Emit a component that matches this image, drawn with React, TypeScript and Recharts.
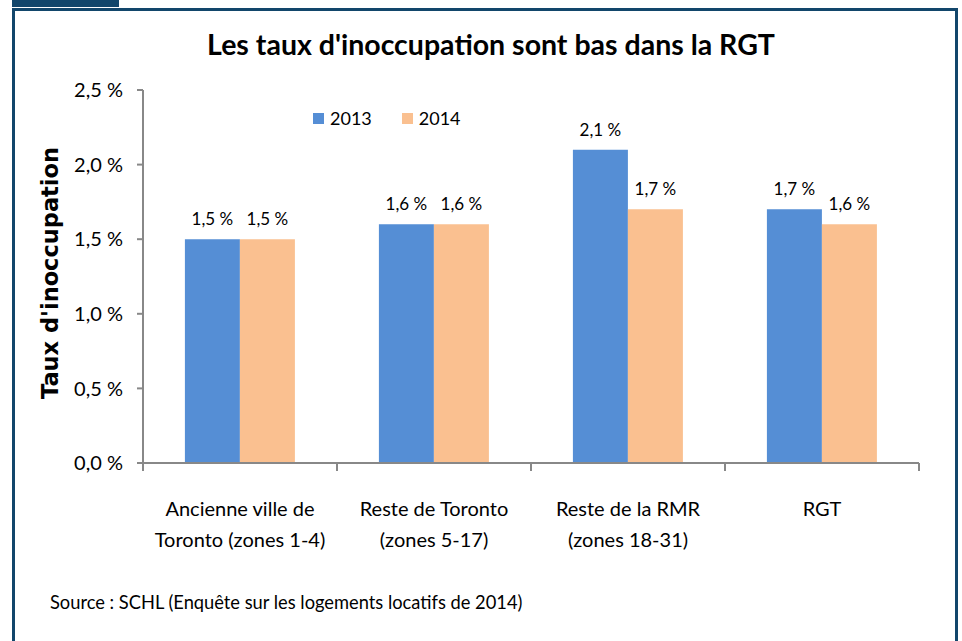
import React from 'react';
import { BarChart, Bar, XAxis, YAxis, LabelList } from 'recharts';

const categories = [
  'Ancienne ville de|Toronto (zones 1-4)',
  'Reste de Toronto|(zones 5-17)',
  'Reste de la RMR|(zones 18-31)',
  'RGT',
];
const values2013 = [1.5, 1.6, 2.1, 1.7];
const values2014 = [1.5, 1.6, 1.7, 1.6];
const seriesNames = ['2013', '2014'];
const yTicks = [0, 0.5, 1, 1.5, 2, 2.5];

const COLORS = ['#558ED5', '#FAC090'];
const NAVY = '#12466B';
const AXIS = '#888888';
const FONT = 'Lato, "Open Sans", sans-serif';

const data = categories.map((c, i) => ({
  name: c,
  v2013: values2013[i],
  v2014: values2014[i],
}));

const fmt = (v: number) => v.toFixed(1).replace('.', ',') + ' %';

const CatTick = (props: any) => {
  const { x, y, payload, index, visibleTicksCount } = props;
  const half = payload && payload.offset ? payload.offset : 0;
  const lines = String(payload.value).split('|');
  const isLast = index === visibleTicksCount - 1;
  return (
    <g>
      <line x1={x - half} x2={x - half} y1={y} y2={y + 8} stroke={AXIS} strokeWidth={2} />
      {isLast && <line x1={x + half} x2={x + half} y1={y} y2={y + 8} stroke={AXIS} strokeWidth={2} />}
      {lines.map((l: string, i: number) => (
        <text key={i} x={x} y={y + 53 + i * 31} textAnchor="middle" fontFamily={FONT} fontSize={20} fill="#000">
          {l}
        </text>
      ))}
    </g>
  );
};

export default function App() {
  return (
    <div style={{ position: 'absolute', left: 0, top: 0, width: 962, height: 641, background: '#fff', overflow: 'hidden' }}>
      <div style={{ position: 'absolute', left: 12, top: 0, width: 107, height: 7, background: NAVY }} />
      <div style={{ position: 'absolute', left: 12, top: 8, width: 946, height: 700, border: `3px solid ${NAVY}`, boxSizing: 'border-box' }} />
      <div style={{ position: 'absolute', left: 0, top: 27, width: 982, textAlign: 'center', fontFamily: FONT, fontWeight: 700, fontSize: 28.5, color: '#000' }}>
        Les taux d'inoccupation sont bas dans la RGT
      </div>
      <div style={{ position: 'absolute', left: 50, top: 273, width: 0, height: 0 }}>
        <div style={{ position: 'absolute', left: 0, top: 0, transform: 'translate(-50%, -50%) rotate(-90deg)', whiteSpace: 'nowrap', fontFamily: '"DejaVu Sans", Verdana, sans-serif', fontWeight: 700, fontSize: 22.5, color: '#000' }}>
          Taux d'inoccupation
        </div>
      </div>
      <div style={{ position: 'absolute', left: 313, top: 107, display: 'flex', alignItems: 'center', fontFamily: FONT, fontSize: 18, color: '#000' }}>
        {seriesNames.map((n, i) => (
          <div key={n} style={{ display: 'flex', alignItems: 'center', marginRight: i === 0 ? 30 : 0 }}>
            <div style={{ width: 11, height: 11, background: COLORS[i], marginRight: 6 }} />
            <span>{n}</span>
          </div>
        ))}
      </div>
      <div style={{ position: 'absolute', left: 50, top: 591, fontFamily: FONT, fontSize: 18.3, color: '#000', whiteSpace: 'nowrap' }}>
        Source : SCHL (Enquête sur les logements locatifs de 2014)
      </div>
      <div style={{ position: 'absolute', left: 0, top: 0 }}>
        <BarChart width={962} height={641} data={data} margin={{ top: 90, right: 43, bottom: 177, left: 63 }} barGap={0} barCategoryGap="21.6%">
          <XAxis dataKey="name" height={1} tick={<CatTick />} tickLine={false} tickSize={0} tickMargin={0} axisLine={{ stroke: AXIS, strokeWidth: 2 }} interval={0} />
          <YAxis width={80} domain={[0, 2.5]} ticks={yTicks} tickFormatter={fmt} axisLine={{ stroke: AXIS, strokeWidth: 2 }} tickLine={{ stroke: AXIS, strokeWidth: 2 }} tickSize={6} tickMargin={14} tick={{ fontFamily: FONT, fontSize: 20, fill: '#000' }} />
          <Bar dataKey="v2013" name="2013" fill={COLORS[0]} isAnimationActive={false}>
            <LabelList dataKey="v2013" position="top" offset={14} formatter={fmt as any} style={{ fontFamily: FONT, fontSize: 17, fill: '#000' }} />
          </Bar>
          <Bar dataKey="v2014" name="2014" fill={COLORS[1]} isAnimationActive={false}>
            <LabelList dataKey="v2014" position="top" offset={14} formatter={fmt as any} style={{ fontFamily: FONT, fontSize: 17, fill: '#000' }} />
          </Bar>
        </BarChart>
      </div>
    </div>
  );
}
